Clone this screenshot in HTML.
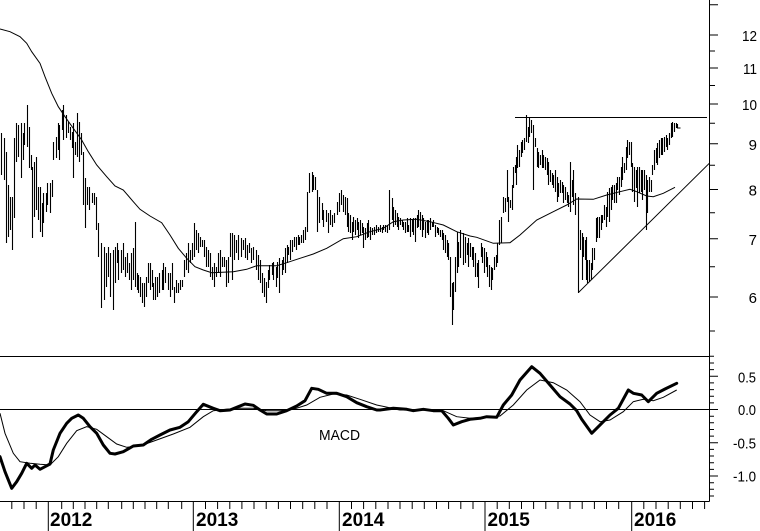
<!DOCTYPE html>
<html><head><meta charset="utf-8"><style>
html,body{margin:0;padding:0;background:#fff;}
svg{display:block;}
text{font-family:"Liberation Sans",Arial,sans-serif;fill:#000;}
</style></head><body>
<svg width="760" height="531" viewBox="0 0 760 531" xmlns="http://www.w3.org/2000/svg">
<rect width="760" height="531" fill="#fff"/>
<g fill="none" stroke="#000" stroke-width="1">
<g transform="translate(0.5,0)" stroke-width="1.1">
<path d="M1 133V175M4 138V180M6 152V243M8 185V237M10 197V230M12 197V250M14 138V218M16 123V162M18 125V157M21 123V178M23 133V160M24 123V145M27 105V147M29 127V168M31 155V170M32 167V238M34 162V217M36 157V210M38 187V220M40 187V232M42 203V237M43 193V223M46 193V212M47 183V205M50 183V213M52 180V197M53 142V160M56 137V158M58 123V150M59 125V160M62 110V130M63 105V140M66 115V138M68 122V133M70 127V140M72 132V148M73 123V178M75 142V155M77 113V157M79 122V162M81 133V155M83 152V205M85 178V228M87 187V205M89 187V210M92 193V203M94 193V205M96 197V230M98 223V257M101 243V308M104 247V300M106 253V287M108 247V277M110 253V297M113 250V310M115 247V283M117 243V263M118 250V280M121 250V273M123 243V270M125 257V277M127 253V273M129 263V280M131 253V290M133 248V280M135 222V287M137 273V290M138 275V293M140 277V297M142 283V303M144 283V307M146 277V297M148 263V283M150 263V290M152 270V287M153 283V300M155 277V300M157 277V297M159 273V293M162 270V290M163 263V290M165 267V283M168 273V290M170 273V297M172 263V290M174 287V303M176 280V293M178 283V293M180 280V290M182 280V287M184 260V277M186 253V270M188 243V273M190 250V263M192 243V260M194 223V257M196 230V250M198 233V253M200 237V247M202 240V247M204 240V257M206 247V267M208 250V267M210 253V277M212 267V280M214 263V287M216 267V277M218 253V273M220 250V277M222 257V267M224 257V267M226 260V287M228 257V283M230 233V257"/>
<path d="M232 233V280M234 235V260M236 240V253M238 235V260M241 238V257M243 240V250M245 238V258M247 245V260M249 243V253M251 248V263M253 247V260M256 250V270M258 255V280M260 260V283M262 273V293M264 278V297M266 282V303M268 270V288M269 265V280M272 263V275M273 262V280M276 267V287M277 262V278M279 258V293M282 260V275M283 257V270M285 248V273M287 245V263M288 247V255M290 240V260M292 240V252M294 237V247M296 237V250M298 235V245M299 237V245M301 235V243M303 230V243M305 227V240M307 192V232M309 173V193M312 172V192M313 175V190M315 177V190M317 190V232M319 197V223M322 203V220M323 210V227M326 210V222M328 213V233M330 210V225M332 215V227M334 213V223M337 202V215M339 193V212M341 190V205M343 195V212M345 197V215M347 198V227M348 213V232M350 215V233M352 222V240M353 217V232M355 220V235M357 218V230M358 222V238M360 220V235M362 223V233M363 227V248M365 228V240M367 223V238M368 220V237M370 227V240M372 228V235M374 227V235M376 225V233M378 227V232M380 225V232M382 227V233M383 225V230M385 225V232M387 225V233M389 190V230M392 198V220M393 207V227M395 210V225M397 213V227M398 217V230M400 218V225M402 220V227M403 222V230M405 222V233M407 218V232M408 225V232M410 218V237M412 220V232M413 218V235M415 218V242M417 215V228M418 210V227M420 212V230M422 215V237M423 218V230M425 222V238M427 220V233M428 220V235M430 218V230M432 222V227M433 220V227M435 225V237M437 227V233M438 228V235M440 230V237M442 230V240M443 233V250M445 235V253M447 240V257M448 243V260M450 257V297M452 283V325M453 282V310M455 257V292M457 232V273M458 242V267M460 230V258"/>
<path d="M463 233V265M465 237V263M467 243V255M468 238V267M470 243V257M472 247V260M473 247V267M475 253V277M477 263V277M478 260V288M481 243V257M482 247V263M484 248V273M486 252V267M487 257V277M489 265V287M491 267V290M492 268V280M494 257V270M496 255V267M497 243V263M499 220V245M501 217V243M503 197V213M505 198V212M507 170V202M508 197V222M510 200V208M512 185V210M513 167V188M515 165V173M516 157V185M517 145V168M519 150V167M521 142V157M522 140V153M524 138V150M526 115V142M528 127V143M529 118V137M531 120V133M533 125V190M535 138V147M537 148V167M538 152V168M540 155V165M542 150V168M543 155V168M545 157V170M547 158V175M548 162V185M550 170V182M552 173V185M553 175V188M555 170V192M557 177V202M558 183V197M560 180V193M562 182V193M563 185V203M565 187V200M567 192V203M568 195V207M570 162V212M572 180V197M573 170V205M575 193V215M578 197V293M580 230V250M582 233V280M583 237V257M585 240V260M586 237V280M587 260V283M589 260V282M591 263V280M592 248V270M594 248V260M596 218V242M597 217V238M599 217V238M601 215V230M602 215V223M604 205V220M606 207V227M607 192V217M609 188V222M611 187V210M612 185V200M614 185V203M616 183V203M617 177V190M619 177V195M621 167V187M622 157V180M624 163V173M626 147V170M627 140V158M629 142V155M631 142V167M632 163V192M634 167V202M636 170V188M637 167V207M639 167V193M641 170V192M642 170V200M644 170V190M646 175V230M647 180V213M649 177V192M651 180V192M652 165V175M654 150V170M656 148V163M657 143V165M659 140V158M661 138V155M662 138V155M664 137V152M666 135V147M667 138V150M669 133V145M671 123V138M672 122V137M674 123V132M676 123V128M677 124V128h3"/>
</g>
<!-- moving average -->
<polyline points="0,29 10,31.7 20,36.7 26.7,43.3 31.7,51.7 40,63.3 45,76.7 51.7,93.3 58.3,106.7 65,116.7 73.3,128.3 81.7,140 88.3,151.7 96.7,165 106.7,176.7 115,186 123.3,190 133.3,201.7 140,209.3 150,216 161.7,222.7 170,235 178.3,248.3 186.7,258.3 195,266.7 203.3,270 211.7,272.7 233.3,271.7 246.7,269.3 256.7,265.7 276.7,265.7 286.7,262.7 300,258.3 313.3,254 326.7,248.3 343.3,238.7 356.7,236.7 370,231.7 383.3,228.3 393.3,221.7 403.3,220 416.7,219.3 430,221.7 443.3,225 456.7,231.7 470,236 476.7,237.3 493.3,243.3 510,242.7 520,235 536.7,220 553.3,211.7 566.7,205 576.7,199 593.3,199.3 606.7,195 620,191.7 630,189.3 636.7,191.7 646.7,196 653.3,196.7 663.3,193.3 675,187.3"/>
<!-- resistance & trend lines -->
<path d="M515 117.5H707M578.3 292.7L709.3 163.3"/>
<!-- axes -->
<path d="M709.5 0V501.5M0 356.5H709.5M0 409.5H718M0 501.5H709.5"/>
<path d="M709 4.7h9M709 35h9M709 68h9M709 104h9M709 143.7h9M709 189.5h9M709 238.7h9M709 297h9M709 51h6M709 85.5h6M709 123.3h6M709 165.3h6M709 212.7h6M709 266.8h6M709 331h6"/>
<path d="M709 356.3h5M709 363h5M709 369.6h5M709 376.3h9M709 382.9h5M709 389.6h5M709 396.2h5M709 402.9h5M709 416.2h5M709 422.8h5M709 429.5h5M709 436.1h5M709 442.8h9M709 449.4h5M709 456h5M709 462.7h5M709 469.4h5M709 476h9M709 482.7h5M709 489.3h5M709 496h5"/>
<!-- date ticks -->
<path d="M11.8 502v7M24 502v7M36.2 502v7M48.3 502v29M61.7 502v7M73.3 502v7M85 502v7M96.7 502v7M108.3 502v7M121.7 502v7M133.3 502v7M145 502v7M156.7 502v7M168.3 502v7M181.7 502v7M193.3 502v29M205.5 502v7M217.6 502v7M229.8 502v7M241.9 502v7M254 502v7M266.2 502v7M278.4 502v7M290.5 502v7M302.7 502v7M314.8 502v7M327 502v7M339.3 502v29M351.5 502v7M363.6 502v7M375.8 502v7M388 502v7M400 502v7M412.2 502v7M424.3 502v7M436.5 502v7M448.6 502v7M460.8 502v7M473 502v7M485 502v29M497.2 502v7M509.3 502v7M521.5 502v7M533.6 502v7M545.8 502v7M558 502v7M570 502v7M582.2 502v7M594.4 502v7M606.5 502v7M618.7 502v7M631.7 502v29M643.8 502v7M656 502v7M668.2 502v7M680.3 502v7M692.5 502v7M704.6 502v7"/>
<!-- MACD -->
<polyline stroke-width="1" points="0,413.3 5,433.3 13.3,453.3 20,461.7 30,463.3 40,464.3 50,465 58.3,456.7 66.7,443.3 76.7,430.7 86.7,426.7 96.7,429.3 106.7,436.7 116.7,444 126.7,447.3 140,446 156.7,440 173.3,434 190,427.3 203.3,416.7 213.3,410.7 226.7,409.3 240,408.3 253.3,408.3 266.7,410.7 280,410.7 293.3,409.3 306.7,405 320,397.3 333.3,394 346.7,395 360,399.3 376.7,405 400,410 420,410 443.3,410.7 456.7,416.7 470,418.3 486.7,417.3 500,416 513.3,405 526.7,390 540,380 553.3,382.7 566.7,390 580,401.7 590,415 600,421.7 610,420 623.3,411.7 633.3,401.7 643.3,399.3 653.3,400.7 663.3,397.3 676.7,390"/>
<polyline stroke-width="3" stroke-linejoin="round" stroke-linecap="round" points="0,456.7 5,471.7 11.7,488.3 16.7,481.7 21.7,473.3 26.7,463.3 31.7,468.3 35,465 40,469.3 45,466.7 50,464 53.3,450 60,433.3 66.7,423.3 71.7,418.3 78.3,415 83.3,418.3 90,426.7 96.7,433.3 103.3,445 110,453.3 115,454 123.3,451.7 133.3,446 143.3,445 151.7,439.3 160,435 170,430 180,427.3 188.3,421.7 196.7,411.7 203.3,404.3 213.3,408.3 220,410.7 230,410 238.3,406.7 245,404 253.3,405.3 260,410 266.7,414 276.7,414 286.7,410.7 296.7,406 305,400.7 311.7,388.3 318.3,389.3 326.7,393.3 336.7,393.3 346.7,396.7 356.7,402.7 366.7,406.7 376.7,410 380,410 393.3,408.3 406.7,409.3 413.3,410.7 423.3,409.3 433.3,410.7 441.7,410.7 448.3,418.3 453.3,425 461.7,421.7 470,419.3 480,418.3 486.7,416.7 496.7,417.3 503.3,405 511.7,395 520,380 531.7,366.7 540,373.3 550,385 560,396.7 570,404 576.7,410.7 581.7,419.3 591.7,433.3 601.7,423.3 610,415 618.3,408.3 628.3,390 633.3,393.3 641.7,395 648.3,401.7 656.7,393.3 665,389 676.7,383.3"/>
</g>
<!-- price labels -->
<g font-size="15" text-anchor="end">
<text x="757" y="41" textLength="15" lengthAdjust="spacingAndGlyphs">12</text>
<text x="757" y="74" textLength="14" lengthAdjust="spacingAndGlyphs">11</text>
<text x="757" y="110" textLength="15" lengthAdjust="spacingAndGlyphs">10</text>
<text x="757" y="150">9</text>
<text x="757" y="195.5">8</text>
<text x="757" y="245">7</text>
<text x="757" y="303">6</text>
<text x="756" y="382.5" textLength="18" lengthAdjust="spacingAndGlyphs">0.5</text>
<text x="756" y="415" textLength="18" lengthAdjust="spacingAndGlyphs">0.0</text>
<text x="756" y="448.5" textLength="23" lengthAdjust="spacingAndGlyphs">-0.5</text>
<text x="756" y="481.5" textLength="23" lengthAdjust="spacingAndGlyphs">-1.0</text>
</g>
<text x="319" y="440" font-size="15" textLength="41" lengthAdjust="spacingAndGlyphs">MACD</text>
<g font-size="19" font-weight="bold">
<text x="50" y="526">2012</text>
<text x="196" y="526">2013</text>
<text x="342" y="526">2014</text>
<text x="487.5" y="526">2015</text>
<text x="634" y="526">2016</text>
</g>
</svg>
</body></html>
